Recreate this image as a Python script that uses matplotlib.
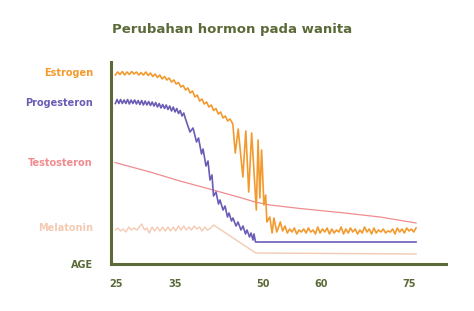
import matplotlib
matplotlib.use("Agg")
import matplotlib.pyplot as plt

olive = "#5b6a38"
c_estrogen = "#f29a2e"
c_progesteron = "#6b5cb5"
c_testosteron = "#f08c8f"
c_melatonin = "#f3cab2"

title = "Perubahan hormon pada wanita"
age_ticks = [25, 35, 50, 60, 75]
row_labels = ["Estrogen", "Progesteron", "Testosteron", "Melatonin", "AGE"]
row_levels = [192, 162, 102, 37, 0]
row_colors = [c_estrogen, c_progesteron, c_testosteron, c_melatonin, olive]

# estrogen: flat zigzag, slow fall, wild swings around 45-50, then noisy tail
estrogen_age = [24.8, 25.2, 25.6, 26.0, 26.4, 26.8, 27.2, 27.6, 28.0, 28.4,
                28.8, 29.2, 29.6, 30.0, 30.4, 30.8, 31.2, 31.6, 32.0, 32.4,
                32.8, 33.2, 33.6, 34.0, 34.4, 34.8, 35.2, 35.6, 36.0, 36.4,
                36.8, 37.2, 37.6, 38.0, 38.4, 38.8, 39.2, 39.6, 40.0, 40.4,
                40.8, 41.2, 41.6, 42.0, 42.4, 42.8, 43.2, 43.6, 44.0, 44.4, 44.8,
                44.9, 45.3, 45.8, 46.6, 47.1, 47.6, 48.1, 48.9, 49.2, 49.5,
                49.8, 50.2, 50.5, 50.7,
                51.2, 51.6, 51.9, 52.4, 53.0, 53.4, 53.8,
                54.2, 54.6, 55.0, 55.4, 55.8, 56.2, 56.6, 57.0, 57.4, 57.8,
                58.2, 58.6, 59.0, 59.4, 59.8, 60.2, 60.6, 61.0, 61.4, 61.8,
                62.2, 62.6, 63.0, 63.4, 63.8, 64.2, 64.6, 65.0, 65.4, 65.8,
                66.2, 66.6, 67.0, 67.4, 67.8, 68.2, 68.6, 69.0, 69.4, 69.8,
                70.2, 70.6, 71.0, 71.4, 71.8, 72.2, 72.6, 73.0, 73.4, 73.8,
                74.2, 74.6, 75.0, 75.4, 75.8, 76.2]
estrogen = [189, 192, 189.5, 192.5, 189, 192, 189.5, 192.5, 190, 192,
            189, 191.5, 189, 192, 188.5, 191, 187.5, 190, 186.5, 189,
            185, 187.5, 184, 186, 182, 184, 180, 181.5, 177, 178.5,
            174, 176, 171, 173, 167, 169, 163, 165, 160, 162,
            157, 159, 153.5, 155.5, 150, 152, 146, 148, 143, 145, 141,
            139, 111, 135, 87, 133, 72, 131, 54, 124, 66,
            114, 59, 69, 42,
            47, 31, 46, 32, 42, 33, 38,
            31, 35, 32, 36, 30, 34, 32, 35, 31, 36,
            32, 34, 30, 37, 31, 35, 32, 36, 30, 35,
            31, 34, 32, 37, 30, 35, 31, 36, 32, 35,
            30, 34, 31, 37, 32, 35, 30, 36, 31, 34,
            32, 35, 31, 33, 32, 35, 30, 36, 32, 35,
            31, 36, 33, 35, 32, 36]

progesteron_age = [24.8, 25.1, 25.4, 25.7, 26.0, 26.3, 26.6, 26.9, 27.2, 27.5,
                   27.8, 28.1, 28.4, 28.7, 29.0, 29.3, 29.6, 29.9, 30.2, 30.5,
                   30.8, 31.1, 31.4, 31.7, 32.0, 32.3, 32.6, 32.9, 33.2, 33.5,
                   33.8, 34.1, 34.4, 34.7, 35.0, 35.3, 35.6, 35.9, 36.2, 36.5, 36.8,
                   37.56, 38.08, 38.68, 39.02, 39.53, 39.79, 40.30, 40.64, 40.98, 41.32,
                   41.58, 42.01, 42.44, 42.69, 43.21, 43.55, 43.97, 44.23, 44.66, 44.91,
                   45.43, 45.77, 46.28, 46.62, 47.05, 47.31, 47.74, 48.0, 48.33, 48.5,
                   48.76, 76.2]
progesteron = [160.5, 164.5, 160.5, 164.5, 160.5, 164, 160.5, 164.5, 160, 164,
               160.5, 164, 160, 163.5, 159.5, 163.5, 159, 163, 159, 162.5,
               158.5, 162, 158, 161.5, 157, 160.5, 156, 159.5, 155.5, 159,
               154.5, 158, 153, 157, 152, 155.5, 150.5, 153.5, 148, 151, 145,
               132, 136, 122, 126, 110, 115, 98, 103, 84, 89,
               68, 72, 60, 64, 54, 58, 47, 51, 43, 46,
               38, 42, 34, 38, 30, 34, 27, 31, 24, 30,
               22, 22]

testosteron_age = [24.74, 30.73, 35.85, 41.5, 46.11, 48.68, 51.24, 56.37, 63.21, 70.04, 76.2]
testosteron = [101.5, 92, 83, 74, 66.5, 62, 59, 55.5, 51.5, 47, 41]

melatonin_age = [24.8, 25.2, 25.7, 26.1, 26.6, 27.1, 27.5, 28.0, 28.5, 28.9,
                 29.3, 29.8, 30.2, 30.6, 31.1, 31.5, 32.0, 32.4, 32.9, 33.3,
                 33.8, 34.2, 34.7, 35.1, 35.6, 36.0, 36.5, 36.9, 37.4, 37.8,
                 38.3, 38.7, 39.2, 39.6, 40.1, 40.5, 40.9, 41.6, 48.8, 76.2]
melatonin = [34, 36, 33, 35, 32, 37, 34, 36, 34, 37,
             40, 34, 36, 31, 37, 33, 37, 33, 37, 33,
             37, 33, 37, 33, 38, 34, 38, 34, 37, 34,
             38, 35, 37, 33, 37, 34, 35, 39, 11, 10]

fig = plt.figure(figsize=(4.74, 3.11), dpi=100)
ax = fig.add_axes([111 / 474, 47 / 311, 335 / 474, 202 / 311])

ax.plot(testosteron_age, testosteron, color=c_testosteron, lw=0.9)
ax.plot(melatonin_age, melatonin, color=c_melatonin, lw=1.0)
ax.plot(progesteron_age, progesteron, color=c_progesteron, lw=1.2)
ax.plot(estrogen_age, estrogen, color=c_estrogen, lw=1.2)

ax.set_xlim(24.06, 81.32)
ax.set_ylim(0, 202)

for side in ["top", "right"]:
    ax.spines[side].set_visible(False)
for side in ["left", "bottom"]:
    ax.spines[side].set_color(olive)
    ax.spines[side].set_linewidth(2.2)

ax.set_xticks(age_ticks, [str(a) for a in age_ticks])
ax.set_yticks(row_levels, row_labels)
ax.tick_params(axis="x", length=0, pad=11, labelsize=7, labelcolor=olive)
ax.tick_params(axis="y", length=0, pad=13, labelsize=7)
for lab in ax.get_xticklabels():
    lab.set_fontweight("bold")
for lab, col in zip(ax.get_yticklabels(), row_colors):
    lab.set_fontweight("bold")
    lab.set_color(col)

fig.text(232 / 474, 1 - 30 / 311, title, ha="center", va="center",
         fontsize=9.5, fontweight="bold", color=olive)

fig.savefig("out.png", dpi=100, facecolor="white")
